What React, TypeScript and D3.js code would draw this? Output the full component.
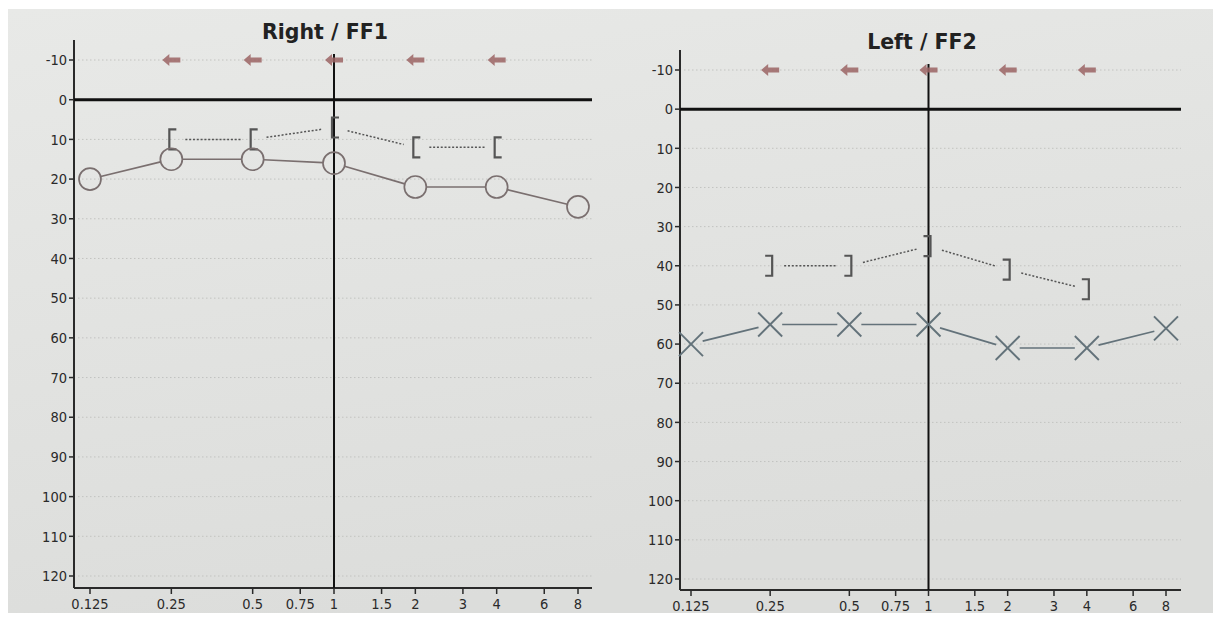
import React from "react";
import * as d3 from "d3";

// ---- data ----
const freqTicks = [0.125, 0.25, 0.5, 0.75, 1, 1.5, 2, 3, 4, 6, 8];
const freqTickLabels = ["0.125", "0.25", "0.5", "0.75", "1", "1.5", "2", "3", "4", "6", "8"];
const dbTicks = [-10, 0, 10, 20, 30, 40, 50, 60, 70, 80, 90, 100, 110, 120];

const airFreqs = [0.125, 0.25, 0.5, 1, 2, 4, 8];
const boneFreqs = [0.25, 0.5, 1, 2, 4];
const arrowFreqs = [0.25, 0.5, 1, 2, 4];

const rightAirDb = [20, 15, 15, 16, 22, 22, 27];
const rightBoneDb = [10, 10, 7, 12, 12];
const rightArrowDb = [-10, -10, -10, -10, -10];

const leftAirDb = [60, 55, 55, 55, 61, 61, 56];
const leftBoneDb = [40, 40, 35, 41, 46];
const leftArrowDb = [-10, -10, -10, -10, -10];

type PanelProps = {
  title: string;
  side: "right" | "left";
  airDb: number[];
  boneDb: number[];
  arrowDb: number[];
  axisX: number;
  axisTop: number;
  axisBottom: number;
  axisRight: number;
  fx0: number;
  fx1: number;
  dy0: number;
  dy1: number;
  titleX: number;
  titleY: number;
};

const FONT = "'DejaVu Sans Condensed', 'DejaVu Sans', sans-serif";

function shorten(x1: number, y1: number, x2: number, y2: number, d1: number, d2: number) {
  const dx = x2 - x1;
  const dy = y2 - y1;
  const len = Math.sqrt(dx * dx + dy * dy);
  const ux = dx / len;
  const uy = dy / len;
  return { x1: x1 + ux * d1, y1: y1 + uy * d1, x2: x2 - ux * d2, y2: y2 - uy * d2 };
}

function Panel(p: PanelProps) {
  const x = d3.scaleLog().base(2).domain([0.125, 8]).range([p.fx0, p.fx1]);
  const y = d3.scaleLinear().domain([-10, 120]).range([p.dy0, p.dy1]);

  const airColor = p.side === "right" ? "#7a6f6f" : "#63727a";
  const boneColor = "#555555";
  const arrowColor = "#9b6464";
  const markR = p.side === "right" ? 11 : 12;

  const airPts = airFreqs.map((f, i) => ({ x: x(f), y: y(p.airDb[i]) }));
  const bonePts = boneFreqs.map((f, i) => ({ x: x(f), y: y(p.boneDb[i]) }));

  return (
    <g>
      <text
        x={p.titleX}
        y={p.titleY}
        textAnchor="middle"
        fontFamily="'DejaVu Sans', sans-serif"
        fontWeight="bold"
        fontSize={20.5}
        fill="#222"
      >
        {p.title}
      </text>

      {/* dotted grid */}
      {dbTicks.map((d) => (
        <line
          key={"g" + d}
          x1={p.axisX + 4}
          x2={p.axisRight}
          y1={y(d)}
          y2={y(d)}
          stroke="#c2c3c0"
          strokeWidth={1}
          strokeDasharray="1.5,2.5"
        />
      ))}

      {/* y axis */}
      <line x1={p.axisX} x2={p.axisX} y1={p.axisTop} y2={p.axisBottom} stroke="#2a2a2a" strokeWidth={2} />
      {dbTicks.map((d) => (
        <g key={"yt" + d}>
          <line x1={p.axisX - 5} x2={p.axisX} y1={y(d)} y2={y(d)} stroke="#2a2a2a" strokeWidth={1.5} />
          <text
            x={p.axisX - 7}
            y={y(d)}
            dy="0.36em"
            textAnchor="end"
            fontFamily={FONT}
            fontSize={14.5}
            fill="#2a2a2a"
          >
            {String(d)}
          </text>
        </g>
      ))}

      {/* x axis */}
      <line x1={p.axisX} x2={p.axisRight} y1={p.axisBottom} y2={p.axisBottom} stroke="#2a2a2a" strokeWidth={2} />
      {freqTicks.map((f, i) => (
        <g key={"xt" + f}>
          <line x1={x(f)} x2={x(f)} y1={p.axisBottom} y2={p.axisBottom + 6} stroke="#2a2a2a" strokeWidth={1.5} />
          <text
            x={x(f)}
            y={p.axisBottom + 21}
            textAnchor="middle"
            fontFamily={FONT}
            fontSize={14.5}
            fill="#2a2a2a"
          >
            {freqTickLabels[i]}
          </text>
        </g>
      ))}

      {/* zero line and 1 kHz line */}
      <line x1={p.axisX} x2={p.axisRight} y1={y(0)} y2={y(0)} stroke="#111" strokeWidth={3} />
      <line x1={x(1)} x2={x(1)} y1={y(-10) - 6} y2={p.axisBottom} stroke="#111" strokeWidth={2} />

      {/* arrows */}
      {arrowFreqs.map((f, i) => {
        const cx = x(f);
        const cy = y(p.arrowDb[i]);
        const path = d3.path();
        path.moveTo(cx - 9, cy);
        path.lineTo(cx - 2, cy - 6);
        path.lineTo(cx - 2, cy - 2.5);
        path.lineTo(cx + 9, cy - 2.5);
        path.lineTo(cx + 9, cy + 2.5);
        path.lineTo(cx - 2, cy + 2.5);
        path.lineTo(cx - 2, cy + 6);
        path.closePath();
        return <path key={"a" + f} d={path.toString()} fill={arrowColor} opacity={0.85} />;
      })}

      {/* bone conduction dotted connectors */}
      {bonePts.slice(1).map((pt, i) => {
        const a = bonePts[i];
        const s = shorten(a.x, a.y, pt.x, pt.y, 14, 12);
        return (
          <line
            key={"bl" + i}
            x1={s.x1}
            y1={s.y1}
            x2={s.x2}
            y2={s.y2}
            stroke={boneColor}
            strokeWidth={1.5}
            strokeDasharray="2,1.8"
          />
        );
      })}
      {/* brackets */}
      {bonePts.map((pt, i) => {
        const dir = p.side === "right" ? 1 : -1;
        const vx = pt.x - dir * 2;
        const cx = vx + dir * 7;
        const d = `M${cx},${pt.y - 10}H${vx}V${pt.y + 10}H${cx}`;
        return <path key={"b" + i} d={d} fill="none" stroke={boneColor} strokeWidth={2.2} />;
      })}

      {/* air conduction solid connectors */}
      {airPts.slice(1).map((pt, i) => {
        const a = airPts[i];
        const s = shorten(a.x, a.y, pt.x, pt.y, markR, markR);
        return (
          <line key={"al" + i} x1={s.x1} y1={s.y1} x2={s.x2} y2={s.y2} stroke={airColor} strokeWidth={1.7} />
        );
      })}
      {airPts.map((pt, i) =>
        p.side === "right" ? (
          <circle key={"c" + i} cx={pt.x} cy={pt.y} r={markR} fill="none" stroke={airColor} strokeWidth={1.7} />
        ) : (
          <g key={"x" + i} stroke={airColor} strokeWidth={1.9}>
            <line x1={pt.x - markR} y1={pt.y - markR} x2={pt.x + markR} y2={pt.y + markR} />
            <line x1={pt.x - markR} y1={pt.y + markR} x2={pt.x + markR} y2={pt.y - markR} />
          </g>
        )
      )}
    </g>
  );
}

export default function App() {
  return (
    <svg
      width={1221}
      height={621}
      style={{ position: "absolute", left: 0, top: 0, display: "block" }}
    >
      <defs>
        <linearGradient id="paper" x1="0" y1="0" x2="0.3" y2="1">
          <stop offset="0" stopColor="#e8e9e7" />
          <stop offset="1" stopColor="#dcdddb" />
        </linearGradient>
      </defs>
      <rect x={0} y={0} width={1221} height={621} fill="#ffffff" />
      <rect x={8} y={9} width={1205} height={604} fill="url(#paper)" />

      <Panel
        title="Right / FF1"
        side="right"
        airDb={rightAirDb}
        boneDb={rightBoneDb}
        arrowDb={rightArrowDb}
        axisX={74}
        axisTop={40}
        axisBottom={588}
        axisRight={592}
        fx0={90}
        fx1={578}
        dy0={60}
        dy1={576}
        titleX={325}
        titleY={39}
      />
      <Panel
        title="Left / FF2"
        side="left"
        airDb={leftAirDb}
        boneDb={leftBoneDb}
        arrowDb={leftArrowDb}
        axisX={680}
        axisTop={50}
        axisBottom={590}
        axisRight={1181}
        fx0={691}
        fx1={1166}
        dy0={70}
        dy1={579}
        titleX={922}
        titleY={49}
      />
    </svg>
  );
}
